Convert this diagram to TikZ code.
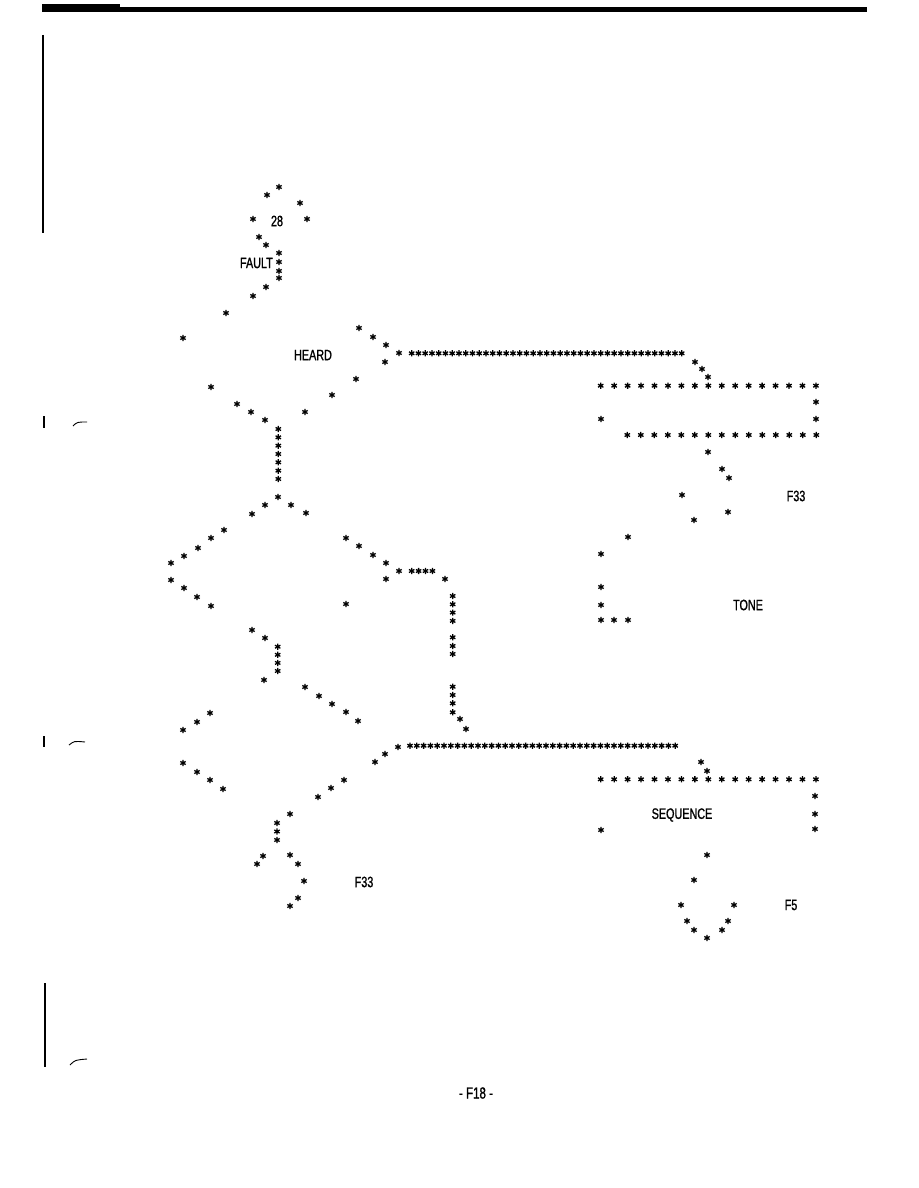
\documentclass[tikz,border=0pt]{standalone}
\usepackage{fontspec}
\newfontfamily\plotfont[FakeStretch=0.72,FakeBold=1.2]{Liberation Sans}
\usepackage{tikz}

\tikzset{
  ast/.pic={\draw[line width=1.3pt]
    (90:3.1)--(270:3.1) (30:3.1)--(210:3.1) (150:3.1)--(330:3.1);},
  lbl/.style={font=\plotfont\fontsize{15}{15}\selectfont,inner sep=0pt},
  margin/.style={line width=1.4pt}
}

\begin{document}
\begin{tikzpicture}[x=1pt,y=-1pt]
\useasboundingbox (0,0) rectangle (918,1188);
\fill (42,7) rectangle (867,12);
\fill (42,4) rectangle (120,12);
\draw[margin] (43,35) -- (43,233);
\draw[margin] (44,416) -- (44,428);
\draw[margin] (44,736) -- (44,747);
\draw[margin] (45,983) -- (45,1067);
\draw[line width=0.9pt] (73,426) .. controls (77,422) .. (87,422);
\draw[line width=0.9pt] (69,745) .. controls (74,741) .. (85,742);
\draw[line width=0.9pt] (70,1065) .. controls (75,1060) .. (87,1059);

% left chart
\foreach \x/\y in {279/187,267/195,300/203,253/219,307/219,259/237,266/245,
  279/253,279/262,279/271,279/278,266/287,253/296,226/313,183/338,
  359/328,373/337,386/345,399/353,385/362,356/379,332/395,305/412,
  211/387,237/404,251/412,265/420,278/497,
  265/505,291/505,252/514,306/513,
  224/530,211/538,198/548,184/556,171/563,171/580,184/588,197/597,211/606,
  346/538,359/546,373/555,386/563,386/579,399/571,445/579,346/604,
  252/630,265/638,264/680,305/687,319/696,332/704,346/712,358/721,
  460/719,466/729,210/713,197/722,183/730,183/763,197/772,210/780,223/789,
  398/747,385/754,375/762,344/780,331/788,318/797,290/814,
  263/856,257/864,290/855,298/864,304/881,298/898,290/906}
  \pic at (\x,\y) {ast};
\foreach \y in {429,437.33,...,480} \pic at (278.3,\y) {ast};
\foreach \y in {646.7,654.8,...,672} \pic at (277.7,\y) {ast};
\foreach \y in {823,831.5,...,841} \pic at (277,\y) {ast};
\foreach \y in {596,604.3,...,622,637.3,646,654,686.7,695,703.3,712.3}
  \pic at (452.7,\y) {ast};
\foreach \x in {411.7,418.6,...,433} \pic at (\x,571) {ast};
\foreach \x in {411.7,418.45,...,682} \pic at (\x,353.3) {ast};
\foreach \x in {410,416.8,...,682} \pic at (\x,745.7) {ast};

% right boxes
\foreach \x in {600.7,614.15,...,817} \pic at (\x,385.7) {ast};
\foreach \x in {627.3,640.8,...,817} \pic at (\x,435) {ast};
\foreach \x in {600.7,614.15,...,817} \pic at (\x,779.3) {ast};
\foreach \x/\y in {695/362,702/369,708/377,816/402,601/419,816/419,
  708/452,722/469,729/478,682/495,728/512,694/520,628/537,601/554,
  601/587,601/605,601/620,614/620,628/620,
  701/762,707/771,815/796,815/814,815/829,601/830,
  707/855,694/880,681/905,734/905,687/921,728/921,694/930,722/930,707/938}
  \pic at (\x,\y) {ast};

\node[lbl] (n28) at (277,221) {28};
\node[lbl,anchor=east] (fault) at (273,263) {FAULT};
\node[lbl] (heard) at (313,355) {HEARD};
\node[lbl] (f33a) at (796,496) {F33};
\node[lbl] (tone) at (748,605) {TONE};
\node[lbl] (seq) at (682,815) {SEQUENCE};
\node[lbl] (f33b) at (364,882) {F33};
\node[lbl] (f5) at (791,905) {F5};
\node[lbl,font=\plotfont\fontsize{16}{16}\selectfont] (page) at (476,1093) {- F18 -};
\end{tikzpicture}
\end{document}
